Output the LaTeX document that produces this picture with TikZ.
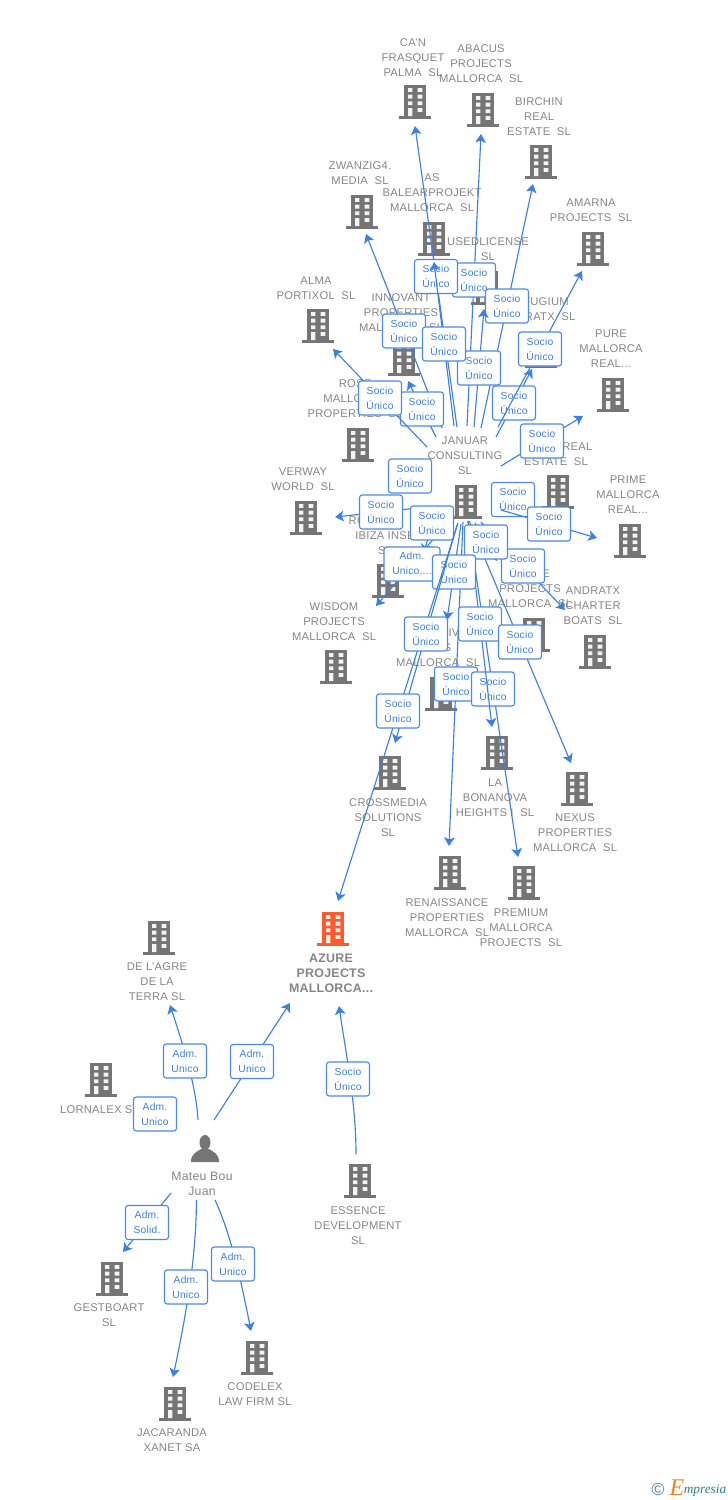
\documentclass[tikz,border=0pt]{standalone}
\usepackage{fontspec}
\setmainfont{Liberation Sans}[LetterSpace=2.2]
\newfontfamily\logofont{Liberation Serif}
\usetikzlibrary{arrows.meta,calc}
\definecolor{linkblue}{HTML}{3C80E0}
\definecolor{tagline}{HTML}{4A8AE6}
\definecolor{labelgray}{HTML}{858585}
\definecolor{iconc}{HTML}{757575}
\definecolor{iconred}{HTML}{FF5A2B}
\definecolor{logoblue}{HTML}{4A7F9F}
\definecolor{logoteal}{HTML}{2A7F8F}
\definecolor{logoorange}{HTML}{F58220}
\tikzset{
  pics/bldg/.style={code={
    \fill[#1] (-11,-16.5) rectangle (11,15.5);
    \fill[#1] (-16,15) rectangle (16,17.5);
    \fill[white!92!#1] (-7,-13) rectangle (-2.6,-9.2) (2.6,-13) rectangle (7.4,-9.2);
    \fill[white!92!#1] (-7,-6.3) rectangle (-2.6,-2.5) (2.6,-6.3) rectangle (7.4,-2.5);
    \fill[white!92!#1] (-7,.4) rectangle (-2.6,4.2) (2.6,.4) rectangle (7.4,4.2);
    \fill[white!92!#1] (-7,7) rectangle (-2.6,15) (2.6,7) rectangle (7.4,10.8);
  }},
  firmtext/.style={align=center,inner sep=0pt,yshift=-.75pt,text=labelgray,font=\fontsize{8.4pt}{11.25pt}\selectfont},
  link/.style={draw=linkblue,line width=.85pt,-{Stealth[length=6.5pt,width=8pt,inset=1.6pt]}},
  tag/.style={draw=tagline,line width=.85pt,fill=white,rounded corners=2pt,align=center,inner sep=0pt,
    minimum width=32.25pt,minimum height=25.5pt,text=linkblue,font=\fontsize{7.7pt}{11.25pt}\selectfont},
}
% name, icon x, icon y, text x, text y, text
\newcommand{\firm}[6]{
  \pic at (#2,#3) {bldg=iconc};
  \node[firmtext] (#1) at (#4,#5) {#6};
}
% name, start, tip, text
\newcommand{\link}[4]{
  \coordinate (#1-a) at (#2);
  \coordinate (#1-b) at (#3);
  \draw[link] (#1-a) -- node[tag] (#1-tag) {#4} (#1-b);
}
\newcommand{\su}{Socio\\Único}
\newcommand{\au}{Adm.\\Unico}
\begin{document}
\begin{tikzpicture}[x=.75pt,y=-.75pt]
\path[use as bounding box] (0,0) rectangle (728,1500);
% firms
\firm{canfrasquet}{415}{101}{413}{57}{CA'N\\FRASQUET\\PALMA\ \ SL}
\firm{abacus}{483}{109}{481}{63}{ABACUS\\PROJECTS\\MALLORCA\ \ SL}
\firm{birchin}{541}{161}{539}{116}{BIRCHIN\\REAL\\ESTATE\ \ SL}
\firm{zwanzig}{362}{211}{360}{172.5}{ZWANZIG4.\\MEDIA\ \ SL}
\firm{balear}{434}{238}{432}{192}{AS\\BALEARPROJEKT\\MALLORCA\ \ SL}
\firm{usedlicense}{487}{287}{488}{248.5}{USEDLICENSE\\SL}
\firm{amarna}{593}{248}{591}{209.5}{AMARNA\\PROJECTS\ \ SL}
\firm{alma}{318}{325}{316}{287.5}{ALMA\\PORTIXOL\ \ SL}
\firm{innovant}{404}{358}{401}{312}{INNOVANT\\PROPERTIES\\MALLORCA\ \ SL}
\firm{refugium}{541}{350}{538}{308.5}{REFUGIUM\\ANDRATX\ \ SL}
\firm{pure}{613}{394}{611}{348}{PURE\\MALLORCA\\REAL...}
\firm{rose}{358}{444}{355}{398}{ROSE\\MALLORCA\\PROPERTIES\ \ SL}
\firm{realestate}{558}{491}{556}{453.5}{\hspace*{32pt}REAL\\ESTATE\ \ SL}
\firm{verway}{306}{517}{303}{478.5}{VERWAY\\WORLD\ \ SL}
\firm{januar}{466}{501}{465}{455}{JANUAR\\CONSULTING\\SL}
\firm{prime}{630}{540}{628}{494}{PRIME\\MALLORCA\\REAL...}
\firm{ibiza}{388}{580}{385}{535}{RO\hspace*{36pt}E\\IBIZA INSE\hspace*{25pt}\\SL}
\firm{wisdom}{336}{666}{334}{621}{WISDOM\\PROJECTS\\MALLORCA\ \ SL}
\firm{projects}{534}{634}{530}{588}{\hspace*{24pt}E\\PROJECTS\\MALLORCA\ \ SL}
\firm{andratx}{595}{651}{593}{605}{ANDRATX\\CHARTER\\BOATS\ \ SL}
\firm{ivfirm}{441}{693}{438}{647}{\hspace*{24pt}IV\\\hspace*{14pt}S\\MALLORCA\ \ SL}
\firm{crossmedia}{390}{772}{388}{817}{CROSSMEDIA\\SOLUTIONS\\SL}
\firm{bonanova}{497}{752}{495}{797}{LA\\BONANOVA\\HEIGHTS I\ \ SL}
\firm{nexus}{577}{788}{575}{832}{NEXUS\\PROPERTIES\\MALLORCA\ \ SL}
\firm{renaissance}{450}{872}{447}{917}{RENAISSANCE\\PROPERTIES\\MALLORCA\ \ SL}
\firm{premium}{524}{882}{521}{927}{PREMIUM\\MALLORCA\\PROJECTS\ \ SL}
\pic at (333,928) {bldg=iconred};
\node[firmtext,font=\fontsize{9.3pt}{11.25pt}\selectfont\bfseries] (azure) at (331,972) {AZURE\\PROJECTS\\MALLORCA...};
\firm{agre}{159}{937}{157}{981}{DE L'AGRE\\DE LA\\TERRA SL}
\firm{lornalex}{101}{1079}{99.5}{1109}{LORNALEX SL}
\firm{essence}{360}{1180}{358}{1225}{ESSENCE\\DEVELOPMENT\\SL}
\firm{gestboart}{112}{1278}{109}{1314.5}{GESTBOART\\SL}
\firm{codelex}{257}{1357}{255}{1393.5}{CODELEX\\LAW FIRM SL}
\firm{jacaranda}{175}{1403}{172}{1439.5}{JACARANDA\\XANET SA}
% person
\fill[iconc] (205,1142.5) ellipse (5.5 and 7.5);
\fill[iconc] (191,1162) .. controls (191,1153) and (197,1152) .. (201,1149) -- (209,1149)
  .. controls (213,1152) and (219,1153) .. (219,1162) -- cycle;
\node[firmtext,font=\fontsize{9.2pt}{11.25pt}\selectfont] (mateu) at (202,1183) {Mateu Bou\\Juan};
% upper links
\link{lnabacus}{467,426}{481,134}{\su}
\link{lnbirchin}{481,428}{533,184}{\su}
\link{lncan}{457,427}{415,126}{\su}
\link{lnzwanzig}{442,428}{366,234}{\su}
\link{lnused}{474,427}{484,309}{\su}
\link{lnbalear}{454,426}{434,262}{\su}
\link{lnrefugium}{496,437}{532,369}{\su}
\link{lnamarna}{498,427}{582,271}{\su}
\link{lninnovant}{436,437}{408,381}{\su}
\link{lnalma}{427,447}{333,349}{\su}
\link{lnpure}{501,466}{583,416}{\su}
\node[tag] (tagrose) at (410,476) {\su};
\node[tag] (tagreal) at (513,499.5) {\su};
\link{lnverway}{427,507}{335,517}{\su}
\link{lnprime}{501,510}{597,538}{\su}
% lower links
\link{lnrenaissance}{463,522}{449,846}{\su}
\link{lnpremium}{468,521}{518,857}{\su}
\link{lnbonanova}{468,521}{492,727}{\su}
\link{lnnexus}{469,521}{571,763}{\su}
\link{lnandratx}{481,522}{565,610}{\su}
\link{lnprojects}{475,523}{497,561}{\su}
\coordinate (lnwisdom-a) at (448,522);
\coordinate (lnwisdom-b) at (376,606);
\draw[link] (lnwisdom-a) -- (lnwisdom-b);
\coordinate (lnibiza-a) at (434,515);
\coordinate (lnibiza-b) at (424,553);
\draw[link] (lnibiza-a) -- (lnibiza-b);
\node[tag] (lnibiza-tag) at (432,523) {\su};
\node[tag,minimum width=42pt] (lnwisdom-tag) at (412,564) {Adm.\\Unico,...};
\link{lnivfirm}{461,524}{447,620}{\su}
\coordinate (lnazure-a) at (458,523);
\coordinate (lnazure-b) at (338,901);
\coordinate (lncross-a) at (457,525);
\coordinate (lncross-b) at (395,743);
\draw[link] (lnazure-a) -- (lnazure-b);
\draw[link] (lncross-a) -- (lncross-b);
\node[tag] (lncross-tag) at (426,634) {\su};
\node[tag] (lnazure-tag) at (398,711) {\su};
% Mateu Bou Juan and Essence
\coordinate (m1) at (198,1120);
\coordinate (m2) at (170,1005);
\draw[link] (m1) .. controls (196,1085) and (183,1045) .. (m2);
\node[tag] (tagagre) at (185,1061) {\au};
\coordinate (m3) at (214,1120);
\coordinate (m4) at (290,1003);
\draw[link] (m3) -- node[tag] (tagmazure) {\au} (m4);
\node[tag] (taglornalex) at (155,1114) {\au};
\coordinate (e1) at (356,1154);
\coordinate (e2) at (339,1006);
\draw[link] (e1) .. controls (356,1105) and (347,1060) .. (e2);
\node[tag] (tagessence) at (348,1079) {\su};
\coordinate (m5) at (171,1193);
\coordinate (m6) at (123,1252);
\draw[link] (m5) -- node[tag] (taggest) {Adm.\\Solid.} (m6);
\coordinate (m7) at (196.5,1200);
\coordinate (m8) at (173,1377);
\draw[link] (m7) .. controls (196,1260) and (186,1315) .. (m8);
\node[tag] (tagjaca) at (186,1287) {\au};
\coordinate (m9) at (215,1200);
\coordinate (m10) at (251,1331);
\draw[link] (m9) .. controls (228,1228) and (238,1265) .. (m10);
\node[tag] (tagcode) at (233,1264) {\au};
% logo
\node[inner sep=0pt,text=logoblue,font=\fontsize{13pt}{13pt}\selectfont] (logoc) at (658,1489) {©};
\node[inner sep=0pt,text=logoorange,font=\logofont\itshape\fontsize{18pt}{18pt}\selectfont] (logoe) at (677,1488) {E};
\node[inner sep=0pt,text=logoteal,anchor=west,font=\logofont\itshape\fontsize{10pt}{10pt}\selectfont] (logom) at (683.5,1490) {mpresia};
\end{tikzpicture}
\end{document}
